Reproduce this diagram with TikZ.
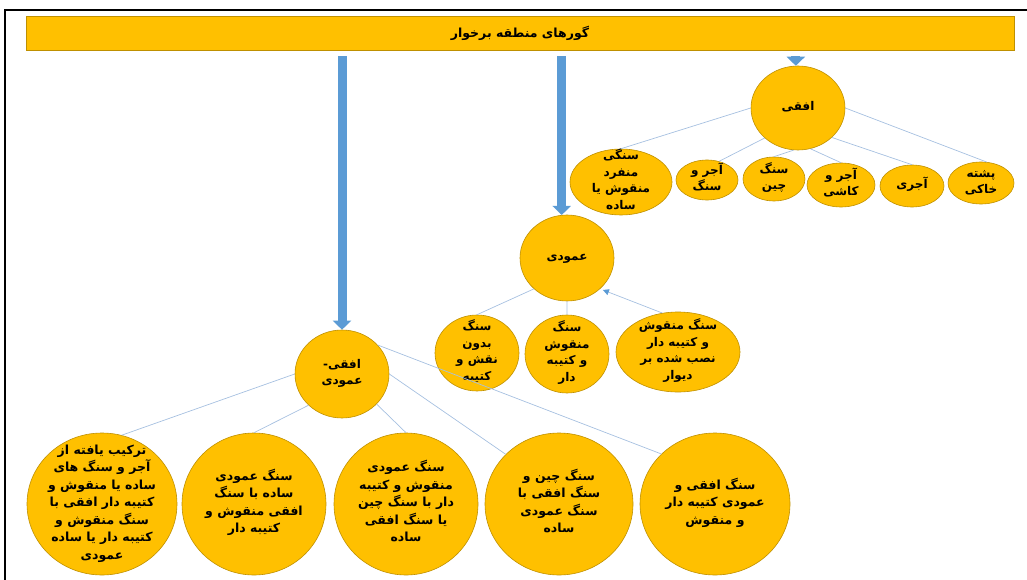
\documentclass[tikz,border=0pt]{standalone}
\usepackage{fontspec}
\newfontfamily\farsi[Script=Arabic]{DejaVu Sans}
\TeXXeTstate=1
\usetikzlibrary{shapes.geometric,arrows.meta}
\definecolor{gold}{HTML}{FFC000}
\definecolor{goldrim}{HTML}{BF9000}
\definecolor{linkblue}{HTML}{A6C0E0}
\definecolor{arrowblue}{HTML}{5B9BD5}
\newcommand\rl[1]{\beginR#1\endR}
\newcommand\ctxt[1]{\makebox[0pt]{\smash{\raisebox{-2pt}{\begin{tabular}{@{}c@{}}#1\end{tabular}}}}}
\begin{document}
\begin{tikzpicture}[x=1pt,y=-1pt,
	blob/.style={ellipse,draw=goldrim,fill=gold,line width=.6pt,inner sep=0pt,font=\farsi\bfseries\fontsize{12}{16.5}\selectfont},
	bigblob/.style={blob,minimum height=142,font=\farsi\bfseries\fontsize{12.5}{17.5}\selectfont},
	link/.style={draw=linkblue,line width=.7pt},
	bigarrow/.style={draw=arrowblue,line width=9pt,-{Triangle[width=18pt,length=9pt]},shorten <=6pt}]
		\useasboundingbox (0,0) rectangle (1027,580);
		\draw[line width=2pt] (5,580) -- (5,10) -- (1027,10);
		\node[draw=goldrim,fill=gold,line width=.8pt,minimum width=988,minimum height=34,font=\farsi\bfseries\fontsize{12.5}{15}\selectfont] (title) at (520,33) {\rl{گورهای منطقه برخوار}};
		% horizontal
		\node[blob,minimum width=94,minimum height=84] (of) at (798,108) {\ctxt{\rl{افقی}}};
		\node[blob,minimum width=102,minimum height=66] (c1) at (621,182) {\ctxt{\rl{سنگی}\\\rl{منفرد}\\\rl{منقوش یا}\\\rl{ساده}}};
		\node[blob,minimum width=62,minimum height=40] (c2) at (707,180) {\ctxt{\rl{آجر و}\\\rl{سنگ}}};
		\node[blob,minimum width=62,minimum height=44] (c3) at (774,179) {\ctxt{\rl{سنگ}\\\rl{چین}}};
		\node[blob,minimum width=68,minimum height=44] (c4) at (841,185) {\ctxt{\rl{آجر و}\\\rl{کاشی}}};
		\node[blob,minimum width=64,minimum height=42] (c5) at (912,186) {\ctxt{\rl{آجری}}};
		\node[blob,minimum width=66,minimum height=42] (c6) at (981,183) {\ctxt{\rl{پشته}\\\rl{خاکی}}};
		% vertical
		\node[blob,minimum width=94,minimum height=86] (am) at (567,258) {\ctxt{\rl{عمودی}}};
		\node[blob,minimum width=84,minimum height=76] (a1) at (477,353) {\ctxt{\rl{سنگ}\\\rl{بدون}\\\rl{نقش و}\\\rl{کتیبه}}};
		\node[blob,minimum width=84,minimum height=78] (a2) at (567,354) {\ctxt{\rl{سنگ}\\\rl{منقوش}\\\rl{و کتیبه}\\\rl{دار}}};
		\node[blob,minimum width=124,minimum height=80] (a3) at (678,352) {\ctxt{\rl{سنگ منقوش}\\\rl{و کتیبه دار}\\\rl{نصب شده بر}\\\rl{دیوار}}};
		% horizontal-vertical
		\node[blob,minimum width=94,minimum height=88] (av) at (342,374) {\ctxt{\rl{افقی-}\\\rl{عمودی}}};
		\node[bigblob,minimum width=150] (b1) at (102,504) {\ctxt{\rl{ترکیب یافته از}\\\rl{آجر و سنگ های}\\\rl{ساده یا منقوش و}\\\rl{کتیبه دار افقی با}\\\rl{سنگ منقوش و}\\\rl{کتیبه دار یا ساده}\\\rl{عمودی}}};
		\node[bigblob,minimum width=144] (b2) at (254,504) {\ctxt{\rl{سنگ عمودی}\\\rl{ساده با سنگ}\\\rl{افقی منقوش و}\\\rl{کتیبه دار}}};
		\node[bigblob,minimum width=144] (b3) at (406,504) {\ctxt{\rl{سنگ عمودی}\\\rl{منقوش و کتیبه}\\\rl{دار با سنگ چین}\\\rl{یا سنگ افقی}\\\rl{ساده}}};
		\node[bigblob,minimum width=148] (b4) at (559,504) {\ctxt{\rl{سنگ چین و}\\\rl{سنگ افقی با}\\\rl{سنگ عمودی}\\\rl{ساده}}};
		\node[bigblob,minimum width=150] (b5) at (715,504) {\ctxt{\rl{سنگ افقی و}\\\rl{عمودی کتیبه دار}\\\rl{و منقوش}}};
		\draw[link] (of.west) -- (c1.north) (of.222) -- (c2.57) (of.264) -- (c3.north) (of.-73) -- (c4.north) (of.-41) -- (c5.north) (of.east) -- (c6.75);
		\draw[link] (am.223) -- (a1.north) (am.south) -- (a2.north);
		\draw[link,-{Triangle[width=6pt,length=6pt,color=arrowblue]},shorten >=3pt] (a3.112) -- (am.-43);
		\draw[link] (av.west) -- (b1.74) (av.223) -- (b2.north) (av.-41) -- (b3.north) (av.east) -- (b4.137) (av.39) -- (b5.137);
		\draw[bigarrow] (title.south -| av.north) -- (av.north);
		\draw[bigarrow] (title.south -| am.97) -- (am.97);
		\draw[bigarrow] (title.south -| of.93) -- (of.93);
	\end{tikzpicture}
\end{document}
